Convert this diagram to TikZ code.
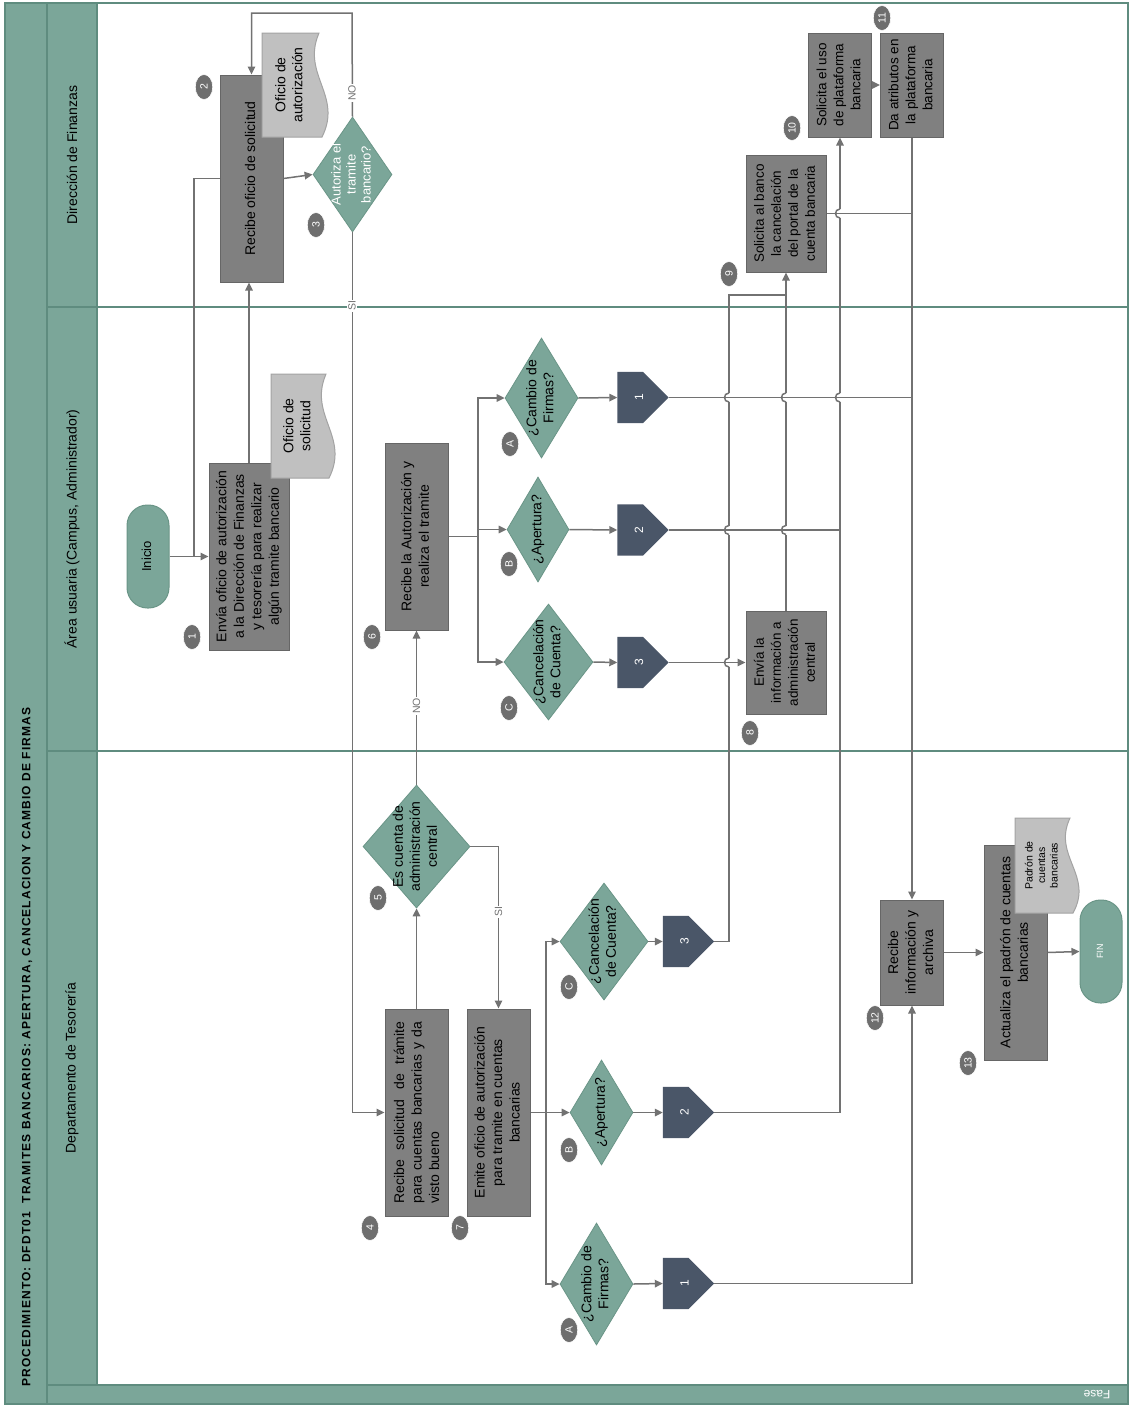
\documentclass[tikz,border=0pt]{standalone}
\usepackage{fontspec}
\setmainfont{Liberation Sans}
\usetikzlibrary{shapes.geometric,arrows.meta,calc}

\definecolor{lanefill}{HTML}{7BA699}
\definecolor{laneline}{HTML}{5F8C7F}
\definecolor{procfill}{HTML}{808080}
\definecolor{procline}{HTML}{666666}
\definecolor{decfill}{HTML}{7BA699}
\definecolor{decline}{HTML}{6A9587}
\definecolor{opfill}{HTML}{4A5668}
\definecolor{docfill}{HTML}{C0C0C0}
\definecolor{docline}{HTML}{A3A3A3}
\definecolor{badgefill}{HTML}{6E6E6E}
\definecolor{wire}{HTML}{727272}

% rotated, centred multi-line text
\newcommand\rtext[1]{\rotatebox{90}{\begin{tabular}{@{}c@{}}#1\end{tabular}}}
\newcommand\fs[2]{\fontsize{#1}{#2}\selectfont}

\tikzset{
  proc/.style={draw=procline, fill=procfill, line width=1pt, inner sep=0pt,
               font=\fs{14}{17.5}},
  dec/.style={diamond, draw=decline, fill=decfill, line width=0.8pt, inner sep=0pt},
  dectext/.style={inner sep=0pt, font=\fs{14}{17}},
  term/.style={draw=decline, fill=lanefill, line width=1pt, rounded corners=20.5pt,
               inner sep=0pt, font=\fs{13}{16}},
  docstyle/.style={draw=docline, fill=docfill, line width=1pt},
  doctext/.style={inner sep=0pt, font=\fs{14}{17}},
  opbox/.style={inner sep=0pt, minimum width=51, minimum height=51},
  optext/.style={inner sep=0pt, text=white, font=\fs{12}{14}},
  badge/.style={ellipse, fill=badgefill, draw=white, line width=0.6pt, inner sep=0pt,
                minimum width=17.5, minimum height=25, text=white, font=\fs{10.5}{12}},
  wire/.style={draw=wire, line width=1.5pt},
  arr/.style={wire, -{Triangle[length=8pt,width=7.5pt]}},
  cond/.style={fill=white, inner sep=1.2pt, text=wire, font=\fs{10.5}{12}},
  lanelabel/.style={inner sep=0pt, font=\fs{14}{17}},
}

% document symbol with a wavy right edge
\newcommand\docshape[6]{%
  \path[docstyle] (#2,#3) -- ({#4-8},#3)
     .. controls ({#4-26},{#3+0.4*(#5-#3)}) and ({#4+16},{#3+0.6*(#5-#3)}) .. ({#4-5},#5)
     -- (#2,#5) -- cycle;
  \node[doctext] (#1) at ({(#2+#4)/2-4},{(#3+#5)/2}) {#6};
}
% off-page connector pointing right
\newcommand\offpage[4]{%
  \node[opbox] (#1) at (#2,#3) {};
  \fill[opfill] (#1.north west) -- (#1.north) -- (#1.east) -- (#1.south)
     -- (#1.south west) -- cycle;
  \node[optext] (#1-t) at ([xshift=-4pt]#1.center) {\rotatebox{90}{#4}};
}
% numbered step marker
\newcommand\badge[4]{\node[badge] (#1) at (#2,#3) {\rotatebox{90}{#4}};}
% line jump on a vertical connector
\newcommand\hop[2]{%
  \fill[white] ({#1-1.8},{#2-4.5}) rectangle ({#1+1.8},{#2+4.5});
  \draw[wire] ({#1-3},#2) -- ({#1+3},#2);
  \draw[wire] (#1,{#2-4.5}) .. controls ({#1-6},{#2-4.5}) and ({#1-6},{#2+4.5}) .. (#1,{#2+4.5});
}

\begin{document}
\begin{tikzpicture}[x=1pt,y=-1pt]
\useasboundingbox (0,0) rectangle (1130,1406);

% ---------- frame and swimlanes ----------
\fill[white] (0,0) rectangle (1130,1406);
\fill[lanefill] (5,3) rectangle (97,1404);
\fill[lanefill] (5,1385) rectangle (1128,1404);
\draw[laneline, line width=1.2pt] (47,3) -- (47,1404);
\draw[laneline, line width=1.2pt] (97,3) -- (97,1385);
\draw[laneline, line width=1.2pt] (47,1385) -- (1128,1385);
\draw[laneline, line width=1.6pt] (47,307) -- (1128,307);
\draw[laneline, line width=1.6pt] (47,751) -- (1128,751);
\draw[laneline, line width=2pt] (5,3) rectangle (1128,1404);

\node[inner sep=0pt, font=\fs{12}{14}\bfseries] (title) at (27,1047)
  {\rotatebox{90}{\addfontfeatures{LetterSpace=9}PROCEDIMIENTO: DFDT01\ \ TRAMITES BANCARIOS: APERTURA, CANCELACION Y CAMBIO DE FIRMAS}};
\node[lanelabel] (lane1) at (72,155) {\rotatebox{90}{Dirección de Finanzas}};
\node[lanelabel] (lane2) at (72,529) {\rotatebox{90}{Área usuaria (Campus, Administrador)}};
\node[lanelabel] (lane3) at (72,1068) {\rotatebox{90}{Departamento de Tesorería}};
\node[inner sep=0pt, text=white, font=\fs{12}{14}] (fase) at (1097,1395) {\rotatebox{180}{Fase}};

% ---------- Dirección de Finanzas ----------
\node[proc, minimum width=63, minimum height=207] (b2) at (251.5,178.5) {\rtext{Recibe oficio de solicitud}};
\docshape{doc2}{262}{33}{327}{137}{\rtext{Oficio de\\autorización}}
\node[dec, minimum width=79, minimum height=115] (d3) at (352.5,174.5) {};
\node[dectext, text=white, font=\fs{13}{15}] (d3t) at (d3) {\rtext{Autoriza el\\tramite\\bancario?}};

\node[proc, minimum width=80, minimum height=117, font=\fs{13.5}{17}] (b9) at (786,213.5)
  {\rtext{Solicita al banco\\la cancelación\\del portal de la\\cuenta bancaria}};
\node[proc, minimum width=63, minimum height=104, font=\fs{13.5}{17}] (b10) at (840,85)
  {\rtext{Solicita el uso\\de plataforma\\bancaria}};
\node[proc, minimum width=63, minimum height=104, font=\fs{13.5}{17}] (b11) at (912,85)
  {\rtext{Da atributos en\\la plataforma\\bancaria}};

% ---------- Área usuaria ----------
\node[term, minimum width=42, minimum height=103] (ini) at (148,556.5) {\rtext{Inicio}};
\node[proc, minimum width=80, minimum height=187] (b1) at (249,556.5)
  {\rtext{Envía oficio de autorización\\a la Dirección de Finanzas\\y tesorería para realizar\\algún tramite bancario}};
\docshape{doc1}{271}{374}{334}{478}{\rtext{Oficio de\\solicitud}}
\node[proc, minimum width=63, minimum height=187] (b6) at (416.5,536.5)
  {\rtext{Recibe la Autorización y\\realiza el tramite}};

\node[dec, minimum width=73, minimum height=120] (dA) at (541.5,398) {};
\node[dectext] (dAt) at (dA) {\rtext{¿Cambio de\\Firmas?}};
\node[dec, minimum width=62, minimum height=105] (dB) at (538,529.5) {};
\node[dectext] (dBt) at (dB) {\rtext{¿Apertura?}};
\node[dec, minimum width=89, minimum height=116] (dC) at (548.5,662) {};
\node[dectext] (dCt) at (dC) {\rtext{¿Cancelación\\de Cuenta?}};

\offpage{pA}{643}{397.5}{1}
\offpage{pB}{643}{530}{2}
\offpage{pC}{643}{662.5}{3}

\node[proc, minimum width=80, minimum height=103, font=\fs{13.5}{17}] (b8) at (786,662.5)
  {\rtext{Envía la\\información a\\administración\\central}};

% ---------- Departamento de Tesorería ----------
\node[proc, minimum width=63, minimum height=207] (b4) at (416.5,1112.5)
  {\rotatebox{90}{\parbox{182pt}{Recibe solicitud de trámite\linebreak para cuentas bancarias y da\linebreak visto bueno}}};
\node[dec, minimum width=107, minimum height=123] (d5) at (416.5,846.5) {};
\node[dectext] (d5t) at (d5) {\rtext{Es cuenta de\\administración\\central}};
\node[proc, minimum width=63, minimum height=207] (b7) at (498.5,1112.5)
  {\rtext{Emite oficio de autorización\\para tramite en cuentas\\bancarias}};

\node[dec, minimum width=88, minimum height=117] (tdC) at (604,941.5) {};
\node[dectext] (tdCt) at (tdC) {\rtext{¿Cancelación\\de Cuenta?}};
\node[dec, minimum width=63, minimum height=105] (tdB) at (601.5,1112.5) {};
\node[dectext] (tdBt) at (tdB) {\rtext{¿Apertura?}};
\node[dec, minimum width=73, minimum height=122] (tdA) at (596.5,1284) {};
\node[dectext] (tdAt) at (tdA) {\rtext{¿Cambio de\\Firmas?}};

\offpage{tC}{688.5}{941.5}{3}
\offpage{tB}{688.5}{1112.5}{2}
\offpage{tA}{688.5}{1283.5}{1}

\node[proc, minimum width=63, minimum height=105] (b12) at (912,952.5)
  {\rtext{Recibe\\información y\\archiva}};
\node[proc, minimum width=63, minimum height=215] (b13) at (1015.5,952.5)
  {\rtext{Actualiza el padrón de cuentas\\bancarias}};
\docshape{doc3}{1015}{818}{1078}{913}{\fs{10.5}{12.5}\rtext{Padrón de\\cuentas\\bancarias}}
\node[term, minimum width=42, minimum height=103, text=white, font=\fs{9}{11}] (fin) at (1101,951.5) {\rtext{FIN}};

% ---------- connectors ----------
\coordinate (j1) at (194,556.5);
\coordinate (topturn) at (352,13);
\coordinate (j6) at (478,536.5);
\coordinate (j7) at (546,1112.5);
\coordinate (j9) at (729,295);

\draw[arr] (ini.east) -- (b1.west);
\draw[wire] (j1) |- (b2.west);
\draw[arr] (b1.north) -- (b1.north |- b2.south);
\draw[arr] (b2.east) -- (d3.west);
\draw[arr] (d3.north) -- (topturn) -| (b2.north);
\draw[arr] (d3.south) |- (b4.west);

\draw[arr] (b4.north) -- (d5.south);
\draw[arr] (d5.north) -- (b6.south);
\draw[arr] (d5.east) -| (b7.north);

\draw[wire] (b6.east) -- (j6);
\draw[arr] (j6) |- (dA.west);
\draw[arr] (j6) |- (dC.west);
\draw[arr] (j6 |- dB.west) -- (dB.west);
\draw[arr] (dA.east) -- (pA.west);
\draw[arr] (dB.east) -- (pB.west);
\draw[arr] (dC.east) -- (pC.west);
\draw[arr] (pC.east) -- (b8.west);
\draw[wire] (pA.east) -- (pA.east -| b11.south);
\draw[wire] (pB.east) -- (pB.east -| b10.south);

\draw[arr] (b8.north) -- (b9.south);
\draw[wire] (tC.east) -| (j9) -- (j9 -| b9.south);
\draw[arr] (tB.east) -| (b10.south);
\draw[arr] (b10.east) -- (b11.west);
\draw[wire] (b9.east) -- (b9.east -| b11.south);
\draw[arr] (b11.south) -- (b12.north);

\draw[wire] (b7.east) -- (j7);
\draw[arr] (j7) |- (tdC.west);
\draw[arr] (j7) |- (tdA.west);
\draw[arr] (j7) -- (tdB.west);
\draw[arr] (tdC.east) -- (tC.west);
\draw[arr] (tdB.east) -- (tB.west);
\draw[arr] (tdA.east) -- (tA.west);
\draw[arr] (tA.east) -| (b12.south);
\draw[arr] (b12.east) -- (b13.west);
\draw[arr] (b13.east) -- (fin.west);

% line jumps
\hop{729}{397.5}
\hop{729}{530}
\hop{729}{662.5}
\hop{786}{397.5}
\hop{786}{530}
\hop{840}{397.5}
\hop{840}{213.5}

% branch conditions
\node[cond] (noA) at (352,93) {\rotatebox{90}{NO}};
\node[cond] (siA) at (352,306) {\rotatebox{90}{SI}};
\node[cond] (noB) at (416.5,706) {\rotatebox{90}{NO}};
\node[cond] (siB) at (498.5,912) {\rotatebox{90}{SI}};

% ---------- step markers ----------
\badge{n2}{204}{87}{2}
\badge{n3}{316}{225}{3}
\badge{n1}{192}{637}{1}
\badge{n6}{372}{637}{6}
\badge{nA1}{510}{444}{A}
\badge{nB1}{509}{564}{B}
\badge{nC1}{509}{708}{C}
\badge{n8}{750}{733}{8}
\badge{n9}{729}{274}{9}
\badge{n10}{792}{128}{10}
\badge{n11}{882}{18}{11}
\badge{n4}{370}{1228}{4}
\badge{n5}{378}{898}{5}
\badge{n7}{460}{1228}{7}
\badge{nC2}{569}{987}{C}
\badge{nB2}{569}{1150}{B}
\badge{nA2}{569}{1330}{A}
\badge{n12}{875}{1018}{12}
\badge{n13}{968}{1063}{13}
\end{tikzpicture}
\end{document}
